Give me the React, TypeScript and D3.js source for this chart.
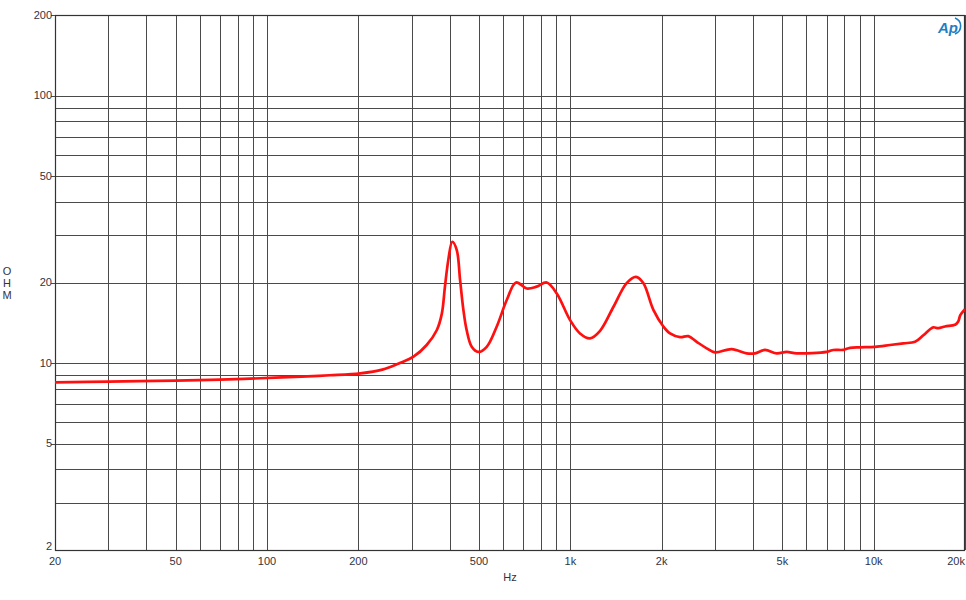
import React from "react";
import * as d3 from "d3";

const freqs = [20, 30, 50, 70, 95, 130, 161, 203, 240, 274, 304, 336, 363, 377, 386, 396, 408, 422, 433, 444, 455, 473, 497, 530, 572, 617, 662, 718, 774, 836, 902, 997, 1076, 1161, 1253, 1386, 1533, 1646, 1740, 1878, 2026, 2131, 2299, 2448, 2609, 2815, 2998, 3403, 3813, 4062, 4383, 4790, 5167, 5575, 7000, 7362, 7940, 8357, 9017, 10100, 11320, 12525, 13690, 14580, 15340, 15730, 16330, 17180, 18540, 19000, 19300, 20000];
const ohms = [8.47, 8.52, 8.6, 8.67, 8.77, 8.9, 9.0, 9.15, 9.45, 10.0, 10.56, 11.68, 13.29, 15.3, 19.3, 24.3, 28.4, 26.5, 20.4, 15.8, 13.3, 11.5, 11.0, 11.5, 13.7, 17.2, 20.0, 19.0, 19.3, 20.0, 18.2, 14.5, 12.9, 12.37, 13.2, 16.2, 19.9, 21.0, 19.9, 15.8, 13.7, 12.9, 12.5, 12.6, 12.0, 11.35, 10.96, 11.28, 10.87, 10.87, 11.19, 10.87, 11.0, 10.87, 11.0, 11.19, 11.2, 11.4, 11.45, 11.5, 11.68, 11.85, 12.0, 12.7, 13.37, 13.6, 13.5, 13.7, 13.9, 14.3, 15.1, 15.9];

const xGrid = [20, 30, 40, 50, 60, 70, 80, 90, 100, 200, 300, 400, 500, 600, 700, 800, 900, 1000, 2000, 3000, 4000, 5000, 6000, 7000, 8000, 9000, 10000, 20000];
const xLabels = [20, 50, 100, 200, 500, 1000, 2000, 5000, 10000, 20000];
const xLabelText = ["20", "50", "100", "200", "500", "1k", "2k", "5k", "10k", "20k"];
const yGrid = [2, 3, 4, 5, 6, 7, 8, 9, 10, 20, 30, 40, 50, 60, 70, 80, 90, 100, 200];
const yLabels = [200, 100, 50, 20, 10, 5];

const L = 55, R = 965, T = 15, B = 550;

export default function App() {
  const x = d3.scaleLog().domain([20, 20000]).range([L, R]);
  const y = d3.scaleLog().domain([2, 200]).range([B, T]);
  const pts: [number, number][] = freqs.map((f, i) => [x(f), y(ohms[i])]);
  const line = d3.line().curve(d3.curveCatmullRom.alpha(0.5))(pts) || "";
  const txt = "#333340";
  const font = "'Liberation Sans', Arial, sans-serif";
  return (
    <svg width={966} height={600} style={{ position: "absolute", left: 0, top: 0, background: "#fff" }} fontFamily={font}>
      <defs>
        <clipPath id="pc"><rect x={L} y={T} width={R - L} height={B - T} /></clipPath>
      </defs>
      {xGrid.map((f) => (
        <line key={"x" + f} x1={Math.round(x(f)) + 0.5} x2={Math.round(x(f)) + 0.5} y1={T} y2={B} stroke="#4a4a4a" strokeWidth={1} />
      ))}
      {yGrid.map((v) => (
        <line key={"y" + v} x1={L} x2={R} y1={Math.round(y(v)) + 0.5} y2={Math.round(y(v)) + 0.5} stroke="#4a4a4a" strokeWidth={1} />
      ))}
      <rect x={L + 0.5} y={T + 0.5} width={R - L - 1} height={B - T} fill="none" stroke="#333" strokeWidth={1.2} />
      {yLabels.map((v) => (
        <line key={"t" + v} x1={L - 4} x2={L} y1={Math.round(y(v)) + 0.5} y2={Math.round(y(v)) + 0.5} stroke="#4a4a4a" />
      ))}
      <path d={line} fill="none" stroke="#ff1010" strokeWidth={2.7} strokeLinejoin="round" clipPath="url(#pc)" />
      {yLabels.map((v) => (
        <text key={"yl" + v} x={L - 3} y={y(v)} dy="0.35em" textAnchor="end" fontSize={11} fill={txt}>{v}</text>
      ))}
      <text x={L - 3} y={B - 4} dy="0.35em" textAnchor="end" fontSize={11} fill={txt}>2</text>
      {xLabels.map((f, i) => {
        const last = i === xLabels.length - 1;
        return (
          <text key={"xl" + f} x={last ? 965 : x(f)} y={565} textAnchor={last ? "end" : "middle"} fontSize={11} fill={txt}>{xLabelText[i]}</text>
        );
      })}
      <text x={510} y={581} textAnchor="middle" fontSize={11} fill={txt}>Hz</text>
      {["O", "H", "M"].map((c, i) => (
        <text key={c} x={7} y={271 + i * 12} dy="0.35em" textAnchor="middle" fontSize={11} fill={txt}>{c}</text>
      ))}
      <g>
        <text x={948} y={33} textAnchor="middle" fontSize={15} fontStyle="italic" fill="#1f7fc4" fontWeight="bold">Ap</text>
        <path d="M 955 18 A 8.5 8.5 0 0 1 955 34" fill="none" stroke="#1f7fc4" strokeWidth={1.6} />
      </g>
    </svg>
  );
}
